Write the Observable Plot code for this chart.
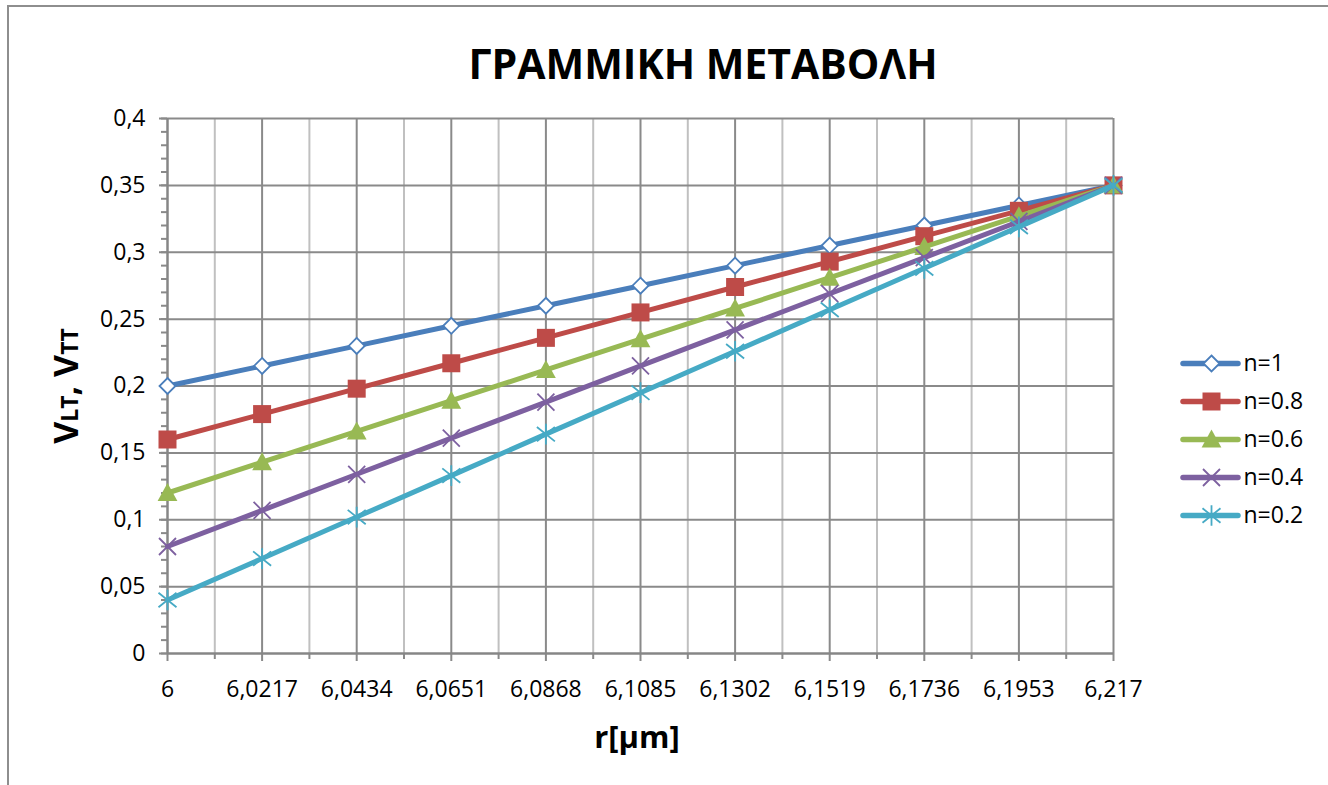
<!DOCTYPE html>
<html>
<head>
<meta charset="utf-8">
<script src="https://cdn.jsdelivr.net/npm/d3@7"></script>
<script src="https://cdn.jsdelivr.net/npm/@observablehq/plot@0.6"></script>
<style>
  html, body { margin: 0; padding: 0; background: #fff; overflow: hidden; }
  #wrap { position: relative; width: 1328px; height: 785px; background: #fff; font-family: 'Open Sans', sans-serif; }
  #frame { position: absolute; left: 7px; top: 5px; width: 1340px; height: 800px; border: 2px solid #8e8e8e; box-sizing: border-box; }
  #chart, #legend, #labels { position: absolute; }
  #chart { left: 0; top: 0; }
  #legend { left: 1175px; top: 320px; }
  #labels { left: 0; top: 0; pointer-events: none; }
</style>
</head>
<body>
<div id="wrap">
  <div id="frame"></div>
  <div id="chart"></div>
  <div id="legend"></div>
  <svg id="labels" width="1328" height="785" font-family="'Open Sans', sans-serif" font-weight="bold" fill="#000">
    <text x="703" y="79" text-anchor="middle" font-size="41">ΓΡΑΜΜΙΚΗ ΜΕΤΑΒΟΛΗ</text>
    <text x="637" y="748" text-anchor="middle" font-size="31">r[μm]</text>
    <text transform="translate(78,386) rotate(-90)" text-anchor="middle"><tspan font-size="34">V</tspan><tspan font-size="23">LT</tspan><tspan font-size="34">, V</tspan><tspan font-size="23">TT</tspan></text>
  </svg>
</div>
<script>
// ---- data ----
const rLabels = ["6", "6,0217", "6,0434", "6,0651", "6,0868", "6,1085", "6,1302", "6,1519", "6,1736", "6,1953", "6,217"];
const rValues = [6, 6.0217, 6.0434, 6.0651, 6.0868, 6.1085, 6.1302, 6.1519, 6.1736, 6.1953, 6.217];
const seriesNames = ["n=1", "n=0.8", "n=0.6", "n=0.4", "n=0.2"];
const n1  = [0.200, 0.215, 0.230, 0.245, 0.260, 0.275, 0.290, 0.305, 0.320, 0.335, 0.350];
const n08 = [0.160, 0.179, 0.198, 0.217, 0.236, 0.255, 0.274, 0.293, 0.312, 0.331, 0.350];
const n06 = [0.120, 0.143, 0.166, 0.189, 0.212, 0.235, 0.258, 0.281, 0.304, 0.327, 0.350];
const n04 = [0.080, 0.107, 0.134, 0.161, 0.188, 0.215, 0.242, 0.269, 0.296, 0.323, 0.350];
const n02 = [0.040, 0.071, 0.102, 0.133, 0.164, 0.195, 0.226, 0.257, 0.288, 0.319, 0.350];
const yTickValues = [0, 0.05, 0.1, 0.15, 0.2, 0.25, 0.3, 0.35, 0.4];
const yTickLabels = ["0", "0,05", "0,1", "0,15", "0,2", "0,25", "0,3", "0,35", "0,4"];
const seriesColors = ["#4a7ebb", "#be4b48", "#98b954", "#7d60a0", "#46aac5"];

// ---- styles ----
const seriesValues = [n1, n08, n06, n04, n02];
const rows = seriesNames.flatMap((name, si) => rValues.map((r, i) => ({series: name, r, v: seriesValues[si][i]})));
const minorX = d3.pairs(rValues, (a, b) => (a + b) / 2);
const minorY = d3.range(0, 41).map(k => k / 100);

const symDiamond = {draw(c, size) { const s = Math.sqrt(size / Math.PI); c.moveTo(0, -s); c.lineTo(s, 0); c.lineTo(0, s); c.lineTo(-s, 0); c.closePath(); }};
const symSquare = {draw(c, size) { const s = Math.sqrt(size / Math.PI); c.rect(-s, -s, 2 * s, 2 * s); }};
const symTriangle = {draw(c, size) { const s = Math.sqrt(size / Math.PI); c.moveTo(0, -s * 1.1); c.lineTo(s * 1.1, s * 0.9); c.lineTo(-s * 1.1, s * 0.9); c.closePath(); }};
const symX = {draw(c, size) { const s = Math.sqrt(size / Math.PI); c.moveTo(-s, -s); c.lineTo(s, s); c.moveTo(-s, s); c.lineTo(s, -s); }};
const symStar = {draw(c, size) { const s = Math.sqrt(size / Math.PI); c.moveTo(-s, -s * 0.8); c.lineTo(s, s * 0.8); c.moveTo(-s, s * 0.8); c.lineTo(s, -s * 0.8); c.moveTo(0, -s * 1.15); c.lineTo(0, s * 1.15); }};
const markerStyles = [
  {symbol: symDiamond, r: 8, fill: "#fff", stroke: seriesColors[0], strokeWidth: 1.8},
  {symbol: symSquare, r: 9, fill: seriesColors[1], stroke: "none"},
  {symbol: symTriangle, r: 9, fill: seriesColors[2], stroke: "none"},
  {symbol: symX, r: 8.5, fill: "none", stroke: seriesColors[3], strokeWidth: 1.8},
  {symbol: symStar, r: 9, fill: "none", stroke: seriesColors[4], strokeWidth: 1.8}
];

const fmtX = d => rLabels[rValues.indexOf(d)];
const fmtY = d => yTickLabels[yTickValues.indexOf(d)];

const seriesMarks = seriesNames.flatMap((name, si) => {
  const data = rows.filter(d => d.series === name);
  return [
    Plot.line(data, {x: "r", y: "v", stroke: seriesColors[si], strokeWidth: 5, strokeLinejoin: "round", strokeLinecap: "round"}),
    Plot.dot(data, {x: "r", y: "v", ...markerStyles[si]})
  ];
});

const chart = Plot.plot({
  width: 1328, height: 785,
  marginLeft: 167, marginRight: 215, marginTop: 118, marginBottom: 132,
  style: {fontFamily: "'Open Sans', sans-serif", fontSize: "23px", color: "#000", background: "transparent", overflow: "visible"},
  x: {domain: [6, 6.217], label: null},
  y: {domain: [0, 0.4], label: null},
  marks: [
    Plot.ruleX(minorX, {stroke: "#c0c0c0", strokeWidth: 2}),
    Plot.ruleX(rValues, {stroke: "#8a8a8a", strokeWidth: 2}),
    Plot.ruleY(yTickValues, {stroke: "#8a8a8a", strokeWidth: 2}),
    Plot.axisY({ticks: minorY, tickSize: 6, tickFormat: () => "", stroke: "#8a8a8a", strokeWidth: 2, strokeOpacity: 1, label: null}),
    Plot.axisY({ticks: yTickValues, tickSize: 8, tickPadding: 14, tickFormat: fmtY, stroke: "#8a8a8a", strokeWidth: 2, strokeOpacity: 1, fill: "#000", label: null}),
    Plot.axisX({ticks: minorX, tickSize: 6, tickFormat: () => "", stroke: "#8a8a8a", strokeWidth: 2, strokeOpacity: 1, label: null}),
    Plot.axisX({ticks: rValues, tickSize: 8, tickPadding: 19, tickFormat: fmtX, stroke: "#8a8a8a", strokeWidth: 2, strokeOpacity: 1, fill: "#000", label: null}),
    Plot.ruleX([6], {stroke: "#868686", strokeWidth: 2}),
    Plot.ruleY([0], {stroke: "#868686", strokeWidth: 2}),
    ...seriesMarks
  ]
});
document.getElementById("chart").append(chart);

const legend = Plot.plot({
  width: 150, height: 240,
  margin: 0,
  style: {fontFamily: "'Open Sans', sans-serif", fontSize: "23px", color: "#000", background: "transparent", overflow: "visible"},
  x: {domain: [0, 150], range: [0, 150], axis: null},
  y: {type: "point", domain: seriesNames, range: [23, 215], axis: null},
  marks: seriesNames.flatMap((name, si) => [
    Plot.ruleY([name], {y: d => d, x1: 8, x2: 63, stroke: seriesColors[si], strokeWidth: 5.5, strokeLinecap: "round"}),
    Plot.dot([name], {x: () => 36, y: d => d, ...markerStyles[si]}),
    Plot.text([name], {x: () => 68, y: d => d, text: d => d, textAnchor: "start", fill: "#000", fontSize: 23})
  ])
});
document.getElementById("legend").append(legend);
</script>
</body>
</html>
